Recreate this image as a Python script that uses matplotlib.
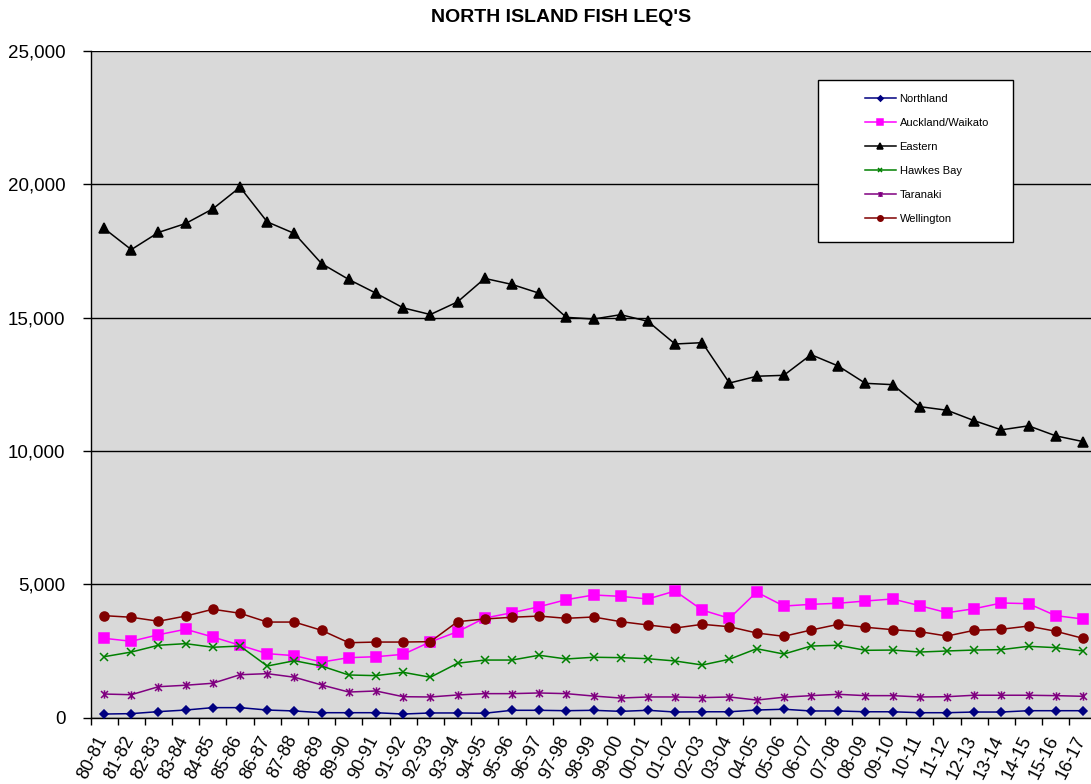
"""
North Island fish LEQ's by region, 1980-81 to 2016-17 (Excel-style line chart).
"""
import numpy as np
import matplotlib.pyplot as plt
import matplotlib.transforms as mtransforms
from matplotlib.path import Path
from matplotlib.patches import Rectangle
from matplotlib.ticker import FuncFormatter

plt.rcParams["font.family"] = ["Liberation Sans", "DejaVu Sans"]

seasons = ["80-81", "81-82", "82-83", "83-84", "84-85", "85-86", "86-87", "87-88",
           "88-89", "89-90", "90-91", "91-92", "92-93", "93-94", "94-95", "95-96",
           "96-97", "97-98", "98-99", "99-00", "00-01", "01-02", "02-03", "03-04",
           "04-05", "05-06", "06-07", "07-08", "08-09", "09-10", "10-11", "11-12",
           "12-13", "13-14", "14-15", "15-16", "16-17"]

northland = [130, 145, 220, 280, 370, 370, 280, 245, 180, 180, 180, 130, 170, 170,
             160, 270, 270, 255, 270, 230, 270, 205, 215, 215, 280, 310, 245, 245,
             215, 215, 180, 180, 205, 205, 255, 255, 255]
auckland_waikato = [2970, 2860, 3105, 3310, 3020, 2710, 2395, 2320, 2080, 2245, 2280,
                    2370, 2835, 3220, 3730, 3930, 4155, 4420, 4595, 4545, 4445, 4745,
                    4030, 3720, 4705, 4180, 4245, 4285, 4370, 4445, 4195, 3930, 4080,
                    4295, 4270, 3820, 3695]
eastern = [18345, 17550, 18195, 18530, 19080, 19890, 18590, 18155, 17025, 16430,
           15915, 15365, 15115, 15590, 16470, 16245, 15915, 15010, 14945, 15110,
           14860, 14010, 14060, 12545, 12800, 12835, 13610, 13185, 12535, 12485,
           11660, 11525, 11135, 10790, 10940, 10565, 10350]
hawkes_bay = [2280, 2455, 2710, 2770, 2635, 2680, 1930, 2130, 1930, 1595, 1570, 1695,
              1510, 2035, 2155, 2155, 2335, 2195, 2260, 2245, 2205, 2120, 1970, 2185,
              2580, 2380, 2680, 2710, 2520, 2530, 2455, 2495, 2530, 2545, 2670, 2620,
              2495]
taranaki = [880, 855, 1155, 1210, 1285, 1605, 1645, 1510, 1220, 955, 995, 780, 770,
            845, 895, 895, 920, 895, 805, 730, 770, 770, 745, 770, 655, 760, 820, 870,
            820, 820, 770, 780, 835, 835, 835, 820, 795]
wellington = [3820, 3760, 3610, 3805, 4060, 3910, 3580, 3580, 3270, 2805, 2830, 2830,
              2845, 3595, 3695, 3760, 3805, 3720, 3770, 3595, 3470, 3355, 3495, 3405,
              3170, 3045, 3280, 3495, 3385, 3295, 3220, 3055, 3270, 3310, 3430, 3235,
              2970]

# Excel "star" marker: an X with a vertical bar through it
star = Path([(-1, -1), (1, 1), (-1, 1), (1, -1), (0, -1.2), (0, 1.2)],
            [Path.MOVETO, Path.LINETO, Path.MOVETO, Path.LINETO, Path.MOVETO, Path.LINETO])

series = [
    ("Northland", northland, "#000080", "D", 4.5),
    ("Auckland/Waikato", auckland_waikato, "#FF00FF", "s", 6.5),
    ("Eastern", eastern, "#000000", "^", 6.5),
    ("Hawkes Bay", hawkes_bay, "#008000", "x", 6),
    ("Taranaki", taranaki, "#800080", star, 6),
    ("Wellington", wellington, "#800000", "o", 6.5),
]

W, H = 1091, 784
fig = plt.figure(figsize=(W / 100, H / 100), dpi=100)
x_left, x_right = 90.5, 1096.5
y_top, y_bot = 51, 717.5
ax = fig.add_axes([x_left / W, (H - y_bot) / H, (x_right - x_left) / W, (y_bot - y_top) / H])
ax.set_facecolor("#D9D9D9")

x = np.arange(len(seasons))
handles = []
for name, vals, color, marker, ms in series:
    h, = ax.plot(x, vals, color=color, lw=1.1, marker=marker, markersize=ms,
                 markerfacecolor=color, markeredgecolor=color, markeredgewidth=1.1,
                 label=name, clip_on=False, zorder=3)
    handles.append(h)

ax.set_xlim(-0.5, len(seasons) - 0.5)
ax.set_ylim(0, 25000)

ax.set_yticks(np.arange(0, 25001, 5000))
ax.yaxis.set_major_formatter(FuncFormatter(lambda v, _: f"{v:,.0f}"))
ax.tick_params(axis="y", length=6, width=1, pad=12, labelsize=13.5, direction="out")
ax.grid(axis="y", color="black", lw=1, zorder=1)
ax.set_axisbelow(True)

ax.set_xticks(x)
ax.set_xticklabels(seasons, rotation=63, ha="right", va="top", rotation_mode="anchor")
ax.set_xticks(np.arange(-0.5, len(seasons)), minor=True)
ax.tick_params(axis="x", which="major", length=0, pad=11, labelsize=13)
ax.tick_params(axis="x", which="minor", length=5, width=1, direction="out")
# nudge the slanted labels left so their top ends sit on the category centres
shift = mtransforms.ScaledTranslation(-9 / 100, 0, fig.dpi_scale_trans)
for lbl in ax.get_xticklabels():
    lbl.set_transform(lbl.get_transform() + shift)

for side in ("top", "right"):
    ax.spines[side].set_visible(False)
for side in ("left", "bottom"):
    ax.spines[side].set_color("black")
    ax.spines[side].set_linewidth(1)

fig.text(561 / W, 1 - 18 / H, "NORTH ISLAND FISH LEQ'S", ha="center", va="center",
         fontsize=14, fontweight="bold")

# legend box (Excel style, entries centred inside a white framed box)
ax.add_patch(Rectangle((818, H - 242), 195, 162, transform=None, facecolor="white",
                       edgecolor="black", lw=1, zorder=4))
leg = fig.legend(handles=handles, loc="upper left", bbox_to_anchor=(859 / W, 1 - 88 / H),
                 frameon=False, fontsize=8, borderpad=0, labelspacing=1.27,
                 handlelength=2.8, handletextpad=0.35, markerscale=0.6)
leg.set_zorder(5)

fig.savefig("out.png", dpi=100)
